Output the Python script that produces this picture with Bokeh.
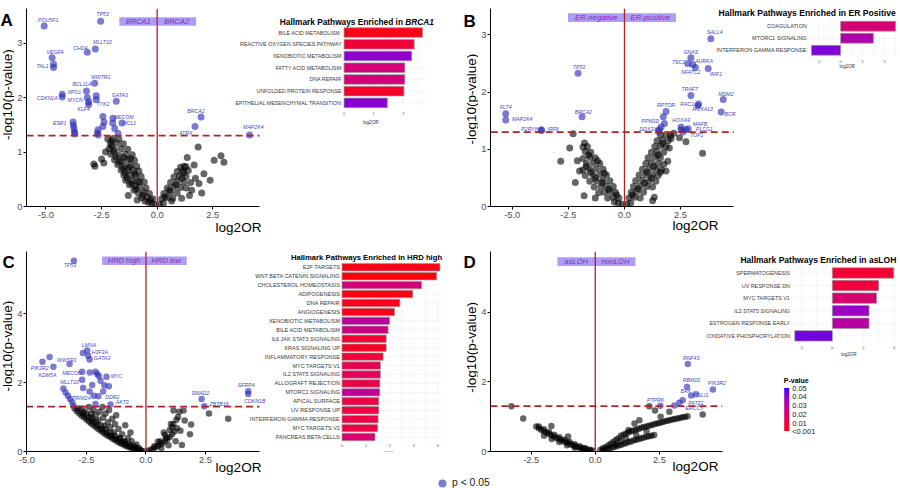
import numpy as np
from bokeh.plotting import figure
from bokeh.models import (Range1d, FixedTicker, Span, ColumnDataSource, LinearColorMapper,
                          ColorBar, Legend, LegendItem, AllLabels)
from bokeh.layouts import column, row
from bokeh.transform import transform
from bokeh.core.properties import value
from bokeh.embed import file_html
from bokeh.resources import INLINE

# ----------------------------------------------------------------- data ----
P_CUT = 0.05

# Panel A : BRCA1 vs BRCA2
A_groups = ["BRCA1", "BRCA2"]
A_sig_gene = ["POU5F1", "TP53", "MLLT10", "CHD4", "VEGFA", "TAL1", "", "WWTR1", "BCL11A",
              "CDKN1A", "", "XPO1", "MYCN", "TYK2", "", "KLF4", "GATA3", "MECOM", "MCL1",
              "", "", "", "", "", "", "ESR1", "", "", "", "", "", "", "",
              "BRCA2", "ATRX", "MAP2K4"]
A_sig_x = [-5.08, -2.54, -2.78, -3.14, -4.72, -4.66, -4.66, -2.81, -3.18,
           -4.27, -4.27, -3.14, -3.08, -2.74, -2.74, -3.08, -1.84, -1.99, -1.58,
           -2.44, -2.39, -2.44, -2.00, -1.91, -1.76, -3.78, -3.77, -3.74, -3.72, -3.70, -2.66, -2.69, -2.65,
           1.97, 1.70, 4.15]
A_sig_y = [3.31, 3.40, 2.89, 2.83, 2.73, 2.55, 2.61, 2.26, 2.12,
           2.06, 2.01, 2.00, 1.92, 1.96, 2.03, 1.87, 1.93, 1.62, 1.53,
           1.65, 1.55, 1.47, 1.53, 1.43, 1.34, 1.55, 1.49, 1.43, 1.37, 1.33, 1.41, 1.35, 1.31,
           1.64, 1.47, 1.31]
A_ns_x = [-0.10, -0.25, -0.40, -0.55, -0.20, -0.45, -0.70, -0.35, -0.60, -0.85, -1.05, -0.50, -0.78,
          -1.00, -1.25, -0.58, -0.88, -1.12, -1.42, -0.72, -0.98, -1.22, -1.50, -0.82, -1.07, -1.32,
          -1.62, -0.92, -1.18, -1.46, -1.78, -1.02, -1.32, -1.60, -1.92, -1.12, -1.42, -1.72, -2.08,
          -1.32, -1.62, -1.92, -2.16, -1.52, -1.82, -2.10, -1.72, -1.98, -2.22, -2.85, -2.80, -2.50,
          -2.32, -2.40, -2.05, -1.30, -0.90,
          -0.30, -0.65, -0.95, -1.15, -1.35, -1.45, -1.55, -1.70, -1.85, -1.95, -2.05, -1.20, -1.50,
          -1.00, -0.80, -1.25,
          0.10, 0.28, 0.20, 0.45, 0.70, 0.30, 0.60, 0.90, 0.45, 0.75, 1.05, 1.30, 0.60, 0.90, 1.20,
          1.50, 0.75, 1.00, 1.30, 0.90, 1.15, 1.40, 1.05, 1.30, 1.84, 1.35, 2.56, 2.87, 3.00, 2.10,
          2.38, 1.88, 1.66, 1.21, 1.55, 1.72, 2.00, 1.10, 1.45,
          0.35, 0.55, 0.85, 1.10, 1.20, 0.65]
A_ns_y = [0.04, 0.06, 0.08, 0.10, 0.14, 0.17, 0.16, 0.24, 0.26, 0.25, 0.30, 0.34, 0.36,
          0.38, 0.40, 0.45, 0.46, 0.47, 0.48, 0.55, 0.56, 0.57, 0.58, 0.65, 0.66, 0.66,
          0.67, 0.74, 0.76, 0.75, 0.77, 0.85, 0.86, 0.84, 0.86, 0.95, 0.96, 0.94, 0.96,
          1.05, 1.06, 1.04, 1.06, 1.15, 1.16, 1.15, 1.24, 1.25, 1.24, 0.78, 0.74, 0.87,
          1.00, 0.80, 1.20, 0.20, 0.12,
          0.12, 0.21, 0.32, 0.42, 0.52, 0.62, 0.71, 0.81, 0.91, 1.00, 1.10, 0.88, 0.90,
          0.60, 0.45, 0.72,
          0.04, 0.06, 0.14, 0.16, 0.15, 0.24, 0.26, 0.25, 0.34, 0.36, 0.35, 0.34, 0.44, 0.46, 0.45,
          0.44, 0.54, 0.56, 0.55, 0.64, 0.65, 0.66, 0.72, 0.73, 1.09, 0.90, 0.85, 0.93, 0.81, 0.60,
          0.48, 0.42, 0.76, 0.74, 0.30, 0.52, 0.25, 0.15, 0.20,
          0.18, 0.30, 0.40, 0.52, 0.62, 0.10]
A_title = ["Hallmark Pathways Enriched in", "BRCA1"]
A_path = ["BILE  ACID METABOLISM", "REACTIVE OXYGEN SPECIES PATHWAY", "XENOBIOTIC METABOLISM",
          "FATTY ACID METABOLISM", "DNA REPAIR", "UNFOLDED PROTEIN RESPONSE",
          "EPITHELIAL MESENCHYMAL TRANSITION"]
A_path_or = [2.65, 2.37, 2.28, 2.05, 2.05, 2.02, 1.46]
A_path_p = [0.003, 0.009, 0.040, 0.022, 0.022, 0.006, 0.041]
A_inset_ticks = [0, 1, 2]

# Panel B : ER-negative vs ER-positive
B_groups = ["ER-negative", "ER-positive"]
B_sig_gene = ["TP53", "FLT4", "MAP2K4", "BRCA2", "P2RY8", "IRF6", "SALL4", "GNAS", "TSC1", "AURKA",
              "NFATC2", "WIF1", "TRAF7", "MDM2", "RAC1", "HOXA13", "BCR", "RPTOR", "PPM1D", "DDX3X",
              "HOXA9", "MAFB", "PLCG1", "TOP1", "", "", "", ""]
B_sig_x = [-2.07, -5.29, -5.29, -1.89, -3.70, -3.70, 3.85, 2.96, 2.82, 3.16,
           3.04, 3.73, 2.96, 4.40, 3.30, 3.26, 4.31, 1.85, 1.78, 1.56,
           2.52, 2.84, 2.74, 2.60, 1.73, 1.63, 2.52, 1.50]
B_sig_y = [2.33, 1.62, 1.51, 1.57, 1.33, 1.34, 2.93, 2.60, 2.50, 2.43,
           2.48, 2.41, 1.94, 1.87, 1.79, 1.76, 1.65, 1.66, 1.45, 1.34,
           1.39, 1.36, 1.34, 1.30, 1.57, 1.39, 1.34, 1.31]
B_ns_x = [-0.10, -0.28, -0.45, -0.25, -0.50, -0.75, -0.40, -0.65, -0.90, -1.15, -0.50, -0.80, -1.05,
          -1.35, -0.65, -0.95, -1.25, -1.55, -0.80, -1.10, -1.40, -1.75, -0.95, -1.25, -1.55, -1.85,
          -1.10, -1.40, -1.70, -1.30, -1.55, -1.85, -1.50, -1.75, -1.65, -1.85, -2.29, -2.44, -2.84,
          -2.19, -1.80, -1.78, -2.00, -2.10, -1.30,
          -0.35, -0.70, -1.00, -1.30, -1.50, -1.70, -1.20, -1.60, -0.90,
          0.10, 0.28, 0.20, 0.45, 0.70, 0.30, 0.55, 0.85, 0.40, 0.70, 1.00, 1.25, 0.50, 0.80, 1.10,
          1.40, 0.65, 0.95, 1.25, 1.50, 0.80, 1.10, 1.40, 1.65, 0.95, 1.20, 1.50, 1.75, 1.05, 1.35,
          1.60, 1.20, 1.45, 1.75, 1.35, 1.60, 1.85, 1.45, 1.70, 1.95, 1.60, 1.85, 2.05, 2.74, 3.48,
          2.08, 2.00, 1.93, 1.85, 1.33, 1.25, 2.20, 2.45,
          0.35, 0.60, 0.90, 1.20, 1.30, 1.50, 1.70, 1.00, 1.60]
B_ns_y = [0.04, 0.06, 0.08, 0.15, 0.16, 0.15, 0.25, 0.26, 0.25, 0.24, 0.35, 0.36, 0.35,
          0.34, 0.45, 0.46, 0.45, 0.44, 0.55, 0.56, 0.55, 0.54, 0.65, 0.66, 0.65, 0.64,
          0.75, 0.76, 0.75, 0.85, 0.86, 0.84, 0.95, 0.96, 1.05, 1.04, 1.27, 1.02, 0.79,
          0.42, 0.19, 1.11, 0.62, 0.80, 0.15,
          0.20, 0.30, 0.42, 0.50, 0.60, 0.70, 0.80, 0.90, 0.58,
          0.04, 0.06, 0.15, 0.16, 0.15, 0.25, 0.26, 0.25, 0.35, 0.36, 0.35, 0.34, 0.45, 0.46, 0.45,
          0.44, 0.55, 0.56, 0.55, 0.54, 0.65, 0.66, 0.65, 0.64, 0.75, 0.76, 0.75, 0.74, 0.85, 0.86,
          0.85, 0.95, 0.96, 0.95, 1.05, 1.06, 1.05, 1.15, 1.16, 1.15, 1.25, 1.26, 1.24, 1.13, 0.93,
          1.19, 1.02, 0.79, 0.62, 0.16, 0.10, 1.28, 1.20,
          0.20, 0.31, 0.41, 0.50, 0.70, 0.90, 1.10, 0.60, 0.60]
B_title = ["Hallmark Pathways Enriched in ER Positive"]
B_path = ["COAGULATION", "MTORC1 SIGNALING", "INTERFERON GAMMA RESPONSE"]
B_path_or = [2.50, 1.49, -1.33]
B_path_p = [0.022, 0.033, 0.042]
B_inset_ticks = [-1, 0, 1, 2]

# Panel C : HRD high vs HRD low
C_groups = ["HRD high", "HRD low"]
C_sig_gene = ["TP53", "LMNA", "H3F3A", "GATA3", "WWTR1", "PIK3R2", "KDM5A", "MECOM", "MYC", "MLLT10",
              "TRIM24", "DDR2", "AKT3", "SMAD2", "ZBTB16", "SFRP4", "CDKN1B",
              "", "", "", "", "", "", "", "", "", "", "", "", "", "", "", "", "", "", "", ""]
C_sig_x = [-3.03, -2.47, -2.43, -2.37, -3.21, -4.35, -3.89, -2.68, -1.66, -3.47,
           -3.19, -1.80, -1.49, 2.34, 2.45, 4.30, 4.30,
           -4.05, -2.65, -2.36, -2.12, -1.98, -2.68, -1.91, -1.56, -2.26, -2.64, -2.37, -2.19,
           -3.38, -3.28, -3.10, -3.05, -2.12, -2.05, -1.75, -2.00]
C_sig_y = [5.53, 2.93, 2.78, 2.67, 2.54, 2.60, 2.46, 2.31, 2.17, 1.83,
           1.52, 1.74, 1.36, 1.52, 1.31, 1.75, 1.67,
           2.74, 2.86, 2.29, 2.31, 2.19, 2.08, 2.05, 1.89, 1.93, 1.84, 1.74, 1.62,
           1.71, 1.62, 1.43, 1.33, 1.38, 2.25, 1.92, 1.60]
C_ns_x = [-3.00, -2.90, -2.80, -2.70, -2.60, -2.50, -2.40, -2.30, -2.20, -2.10, -2.00, -1.90, -1.80,
          -1.70, -1.60, -1.50, -1.40, -1.30, -1.20, -1.10, -1.00, -0.90, -0.80, -0.70, -0.60, -0.50,
          -0.40, -0.30, -0.20, -0.10,
          -2.85, -2.65, -2.45, -2.25, -2.05, -1.85, -1.65, -1.45, -1.25, -1.05, -0.85, -0.65, -0.45,
          -0.25,
          -2.70, -2.50, -2.30, -2.10, -1.90, -1.70, -1.50, -1.30, -1.10, -0.90, -0.70, -0.50, -0.30,
          -2.40, -1.83, -2.20, -1.95, -1.70, -2.10, -1.80, -1.42, -1.60, -1.30, -0.87, -1.50, -1.15,
          -1.35, -1.00, -0.75, -1.10, -0.60, -0.90, -0.40, -2.00, -2.30, -1.25, -0.65, -2.60, -1.55,
          -1.75, -2.25,
          0.10, 0.20, 0.30, 0.40, 0.50, 0.60, 0.70, 0.80, 0.90, 1.00, 1.10, 1.20, 1.30, 0.50, 0.80,
          1.00, 1.15, 0.65, 0.95, 1.25, 1.16, 1.58, 1.63, 1.90, 1.85, 1.51, 2.65, 3.46, 1.35, 1.45,
          1.28, 1.40, 0.35, 0.60, 0.85, 1.10, 0.75, 1.05]
C_ns_y = [1.25, 1.17, 1.10, 1.04, 0.99, 0.93, 0.87, 0.81, 0.76, 0.70, 0.65, 0.60, 0.55,
          0.50, 0.46, 0.42, 0.37, 0.33, 0.29, 0.25, 0.22, 0.18, 0.15, 0.12, 0.10, 0.08,
          0.05, 0.04, 0.02, 0.01,
          1.25, 1.10, 0.99, 0.87, 0.76, 0.65, 0.55, 0.46, 0.37, 0.29, 0.22, 0.15, 0.10,
          0.05,
          1.25, 1.10, 0.99, 0.87, 0.76, 0.65, 0.55, 0.46, 0.37, 0.29, 0.22, 0.15, 0.10,
          1.29, 1.29, 1.20, 1.15, 1.10, 1.05, 0.98, 0.95, 0.85, 0.80, 0.76, 0.70, 0.65,
          0.55, 0.50, 0.40, 0.40, 0.30, 0.30, 0.20, 0.90, 1.10, 1.05, 0.55, 1.15, 1.20,
          0.75, 0.95,
          0.02, 0.05, 0.08, 0.12, 0.16, 0.20, 0.25, 0.30, 0.36, 0.42, 0.50, 0.58, 0.68, 0.28, 0.48,
          0.62, 0.80, 0.10, 0.18, 0.30, 1.19, 1.19, 0.90, 0.78, 0.50, 0.19, 1.10, 0.95, 1.00, 0.60,
          0.92, 1.15, 0.15, 0.30, 0.40, 0.70, 0.55, 0.80]
C_title = ["Hallmark Pathways Enriched in HRD high"]
C_path = ["E2F TARGETS", "WNT BETA CATENIN SIGNALING", "CHOLESTEROL HOMEOSTASIS", "ADIPOGENESIS",
          "DNA REPAIR", "ANGIOGENESIS", "XENOBIOTIC METABOLISM", "BILE ACID METABOLISM",
          "IL6 JAK STAT3 SIGNALING", "KRAS SIGNALING UP", "INFLAMMATORY RESPONSE", "MYC TARGETS V1",
          "IL2 STAT5 SIGNALING", "ALLOGRAFT REJECTION", "MTORC1 SIGNALING", "APICAL SURFACE",
          "UV RESPONSE UP", "INTERFERON GAMMA RESPONSE", "MYC TARGETS V2", "PANCREAS BETA CELLS"]
C_path_or = [4.10, 3.96, 3.33, 2.96, 2.42, 2.20, 1.99, 1.93, 1.85, 1.85,
             1.72, 1.61, 1.61, 1.58, 1.58, 1.54, 1.54, 1.51, 1.49, 1.38]
C_path_p = [0.003, 0.002, 0.022, 0.003, 0.004, 0.004, 0.030, 0.024, 0.008, 0.005,
            0.009, 0.013, 0.016, 0.012, 0.029, 0.011, 0.010, 0.011, 0.011, 0.020]
C_inset_ticks = [0, 1, 2, 3, 4]

# Panel D : asLOH vs nonLOH
D_groups = ["asLOH", "nonLOH"]
D_sig_gene = ["RNF43", "RBM10", "PIK3R2", "BAX", "GLI1", "PATZ1", "ERCC5", "PTPRK", ""]
D_sig_x = [3.61, 3.58, 4.59, 3.74, 3.93, 3.41, 3.28, 2.54, 3.09]
D_sig_y = [2.51, 1.85, 1.78, 1.61, 1.64, 1.47, 1.40, 1.31, 1.32]
D_ns_x = [-2.30, -2.20, -2.10, -2.00, -1.90, -1.80, -1.70, -1.60, -1.50, -1.40, -1.30, -1.20, -1.10,
          -1.00, -0.90, -0.80, -0.70, -0.60, -0.50, -0.40, -0.30, -0.20, -0.10,
          -2.00, -1.70, -1.40, -1.10, -0.80, -0.50,
          -2.20, -2.00, -1.80, -1.60, -1.40, -1.20, -1.00, -0.80, -0.60, -0.40, -0.20,
          -3.27, -2.81, -1.71, -1.06,
          0.20, 0.40, 0.60, 0.80, 1.00, 1.20, 1.40, 1.60, 1.80, 2.00, 2.20, 2.40, 2.60, 2.80, 3.00,
          3.20, 3.40, 3.60,
          0.30, 0.50, 0.70, 0.90, 1.10, 1.30, 1.50, 1.70, 1.90, 2.10, 2.30, 2.50, 2.70, 2.90, 3.10,
          3.30, 3.50,
          0.30, 0.50, 0.70, 0.90, 1.10, 1.30, 1.50, 1.70, 1.90, 2.10, 2.30,
          0.40, 0.60, 0.80, 1.00, 1.20, 1.40, 1.60, 1.80, 2.00, 2.20,
          0.80, 1.20, 1.60, 2.00, 1.00,
          2.11, 2.33, 2.89, 1.53, 1.72, 4.19, 1.30, 2.55]
D_ns_y = [0.72, 0.67, 0.62, 0.58, 0.54, 0.50, 0.46, 0.42, 0.38, 0.35, 0.32, 0.28, 0.25,
          0.22, 0.19, 0.16, 0.13, 0.11, 0.09, 0.07, 0.05, 0.03, 0.02,
          0.45, 0.36, 0.27, 0.18, 0.11, 0.05,
          0.72, 0.64, 0.56, 0.48, 0.41, 0.34, 0.27, 0.21, 0.15, 0.10, 0.05,
          1.30, 0.95, 0.73, 0.43,
          0.05, 0.12, 0.22, 0.33, 0.45, 0.52, 0.58, 0.63, 0.68, 0.72, 0.76, 0.80, 0.84, 0.88, 0.92,
          0.95, 0.98, 1.01,
          0.09, 0.17, 0.27, 0.38, 0.48, 0.55, 0.60, 0.65, 0.70, 0.74, 0.78, 0.82, 0.86, 0.90, 0.93,
          0.96, 0.99,
          0.04, 0.08, 0.12, 0.17, 0.22, 0.27, 0.32, 0.36, 0.40, 0.44, 0.47,
          0.06, 0.10, 0.14, 0.19, 0.24, 0.29, 0.34, 0.38, 0.42, 0.45,
          0.20, 0.38, 0.48, 0.58, 0.30,
          1.30, 1.18, 1.14, 0.80, 0.90, 1.06, 0.62, 1.00]
D_title = ["Hallmark Pathways Enriched in asLOH"]
D_path = ["SPERMATOGENESIS", "UV RESPONSE DN", "MYC TARGETS V1", "IL2 STAT5 SIGNALING",
          "ESTROGEN RESPONSE EARLY", "OXIDATIVE PHOSPHORYLATION"]
D_path_or = [3.97, 2.99, 2.86, 2.37, 2.37, -2.43]
D_path_p = [0.008, 0.010, 0.020, 0.037, 0.031, 0.044]
D_inset_ticks = [-2, 0, 2, 4]

PVAL_TICKS = [0.001, 0.01, 0.02, 0.03, 0.04, 0.05]
PVAL_LABELS = ["<0.001", "0.01", "0.02", "0.03", "0.04", "0.05"]
LEGEND_LABEL = "p < 0.05"
Y_TITLE = "-log10(p-value)"

# ------------------------------------------------------- label placement ----
OFF_A = {"POU5F1": (4, -6.6), "TP53": (2, -7), "MLLT10": (7, -7), "CHD4": (-7, -4.4),
         "VEGFA": (3, -5.3), "TAL1": (-11, -1.7), "WWTR1": (6, -6.7), "BCL11A": (-4.5, -6.7),
         "CDKN1A": (-15, 4), "XPO1": (-13, -5.4), "MYCN": (-13.5, -2.3), "TYK2": (6.7, 4.3),
         "KLF4": (-5, 4), "GATA3": (3.5, -6), "MECOM": (10.8, -1.6), "MCL1": (7.3, -0.6),
         "ESR1": (-13.4, 1), "BRCA2": (-5, -6.6), "ATRX": (-9.3, 6.6), "MAP2K4": (3.8, -7.7)}
OFF_B = {"TP53": (1, -6.3), "FLT4": (0, -6.3), "MAP2K4": (16.5, -0.7), "BRCA2": (1.3, -5),
         "P2RY8": (-12, -1), "IRF6": (11.7, -1), "SALL4": (4, -7), "GNAS": (0, -6),
         "TSC1": (-9.2, -1.3), "AURKA": (8.7, -6.6), "NFATC2": (-2, 7.6), "WIF1": (7.7, 5),
         "TRAF7": (-1.2, -6.7), "MDM2": (2.7, -5.7), "RAC1": (-11.4, 0.3), "HOXA13": (5, 3.7),
         "BCR": (8.8, 2.4), "RPTOR": (0, -6), "PPM1D": (-14, -2.3), "DDX3X": (-11.3, -0.7),
         "HOXA9": (0, -6.6), "MAFB": (11.7, -4.3), "PLCG1": (18.5, -0.7), "TOP1": (13.8, 3.4)}
OFF_C = {"TP53": (-3.9, 4), "LMNA": (1.7, -5), "H3F3A": (11.7, -3.6), "GATA3": (12.4, -1),
         "WWTR1": (-2.8, -4.4), "PIK3R2": (-2.8, 6), "KDM5A": (-6, 8.3), "MECOM": (-10, 1),
         "MYC": (10, -0.7), "MLLT10": (6.2, -6), "TRIM24": (11.3, -0.6), "DDR2": (9.3, 5),
         "AKT3": (11.7, -2.3), "SMAD2": (-1.2, -6), "ZBTB16": (14.8, -2), "SFRP4": (-2, -6.4),
         "CDKN1B": (6.6, 6.7)}
OFF_D = {"RNF43": (3.3, -6), "RBM10": (4.3, -6.6), "PIK3R2": (4, -6.4), "BAX": (-5.5, -4.4),
         "GLI1": (6.7, 1), "PATZ1": (13.3, 2.3), "ERCC5": (15, 5.3), "PTPRK": (-4.8, -5.6)}

# ---------------------------------------------------------------- style ----
FONT = "Liberation Sans"
RED = "#B22222"
SIG_COL = "#2A2AB4"
LAB_COL = "#4545C0"
BOX_FILL = "#AC9EF4"
BOX_TXT = "#8E2AAA"

# all x positions below are pixels inside each panel's main figure (after its gutter)
GA = dict(gw=14, letter=(0, 14), ytx=7,
          w=436, h=237, fl=11, ft=0, fb=206, x0=142, sx=22.3, sy=56.7, xlo=-5.87, xhi=4.6,
          xt=[-5.0, -2.5, 0.0, 2.5], yt=[0, 1, 2, 3], ps=7, xstand=-1,
          bx=(104, 142, 181), by=(9, 18), box_fs="7.5px",
          bz=329.3, bsx=29.7, bt=25, bst=12.2, bhf=0.82, lab_px=326.7, cat_fs="5.3px",
          gx=(-0.13, 2.78), gv=[0, 0.5, 1, 1.5, 2, 2.5], tk_dy=10.7, xl_dx=26.7, xl_dy=19.7,
          t_dx=(58.9, 61.2), t_dy=-11, t_fs="8.3px")
GB = dict(gw=28, letter=(13, 15), ytx=20.5,
          w=422, h=237, fl=11, ft=8, fb=209, x0=145.3, sx=22.5, sy=58.1, xlo=-5.96, xhi=4.87,
          xt=[-5.0, -2.5, 0.0, 2.5], yt=[0, 1, 2, 3], ps=7, xstand=-3,
          bx=(88.7, 145.3, 197), by=(12.7, 21.7), box_fs="7.7px",
          bz=362, bsx=22, bt=26, bst=12.2, bhf=0.82, lab_px=328, cat_fs="5.5px",
          gx=(-1.55, 2.62), gv=[-1.5, -1, -0.5, 0, 0.5, 1, 1.5, 2, 2.5], tk_dy=11.3, xl_dx=6.7,
          xl_dy=16.7, t_dx=-33.5, t_dy=-13.3, t_fs="8.6px")
GC = dict(gw=14, letter=(2, 13), ytx=7,
          w=436, h=240, fl=10, ft=12, fb=215, x0=130, sx=23.9, sy=35, xlo=-5.04, xhi=4.77,
          xt=[-5.0, -2.5, 0.0, 2.5], yt=[0, 2, 4], ps=6.5, xstand=-6,
          bx=(86, 130, 171), by=(17, 25.7), box_fs="7.5px",
          bz=327, bsx=24, bt=28, bst=9.07, bhf=0.83, lab_px=325, cat_fs="5.5px",
          gx=(-0.2, 4.25), gv=[0, 0.5, 1, 1.5, 2, 2.5, 3, 3.5, 4], tk_dy=8.4, xl_dx=44, xl_dy=16.7,
          t_dx=24.5, t_dy=-9.3, t_fs="7.7px")
GD = dict(gw=28, letter=(13, 13), ytx=20.5,
          w=422, h=240, fl=11, ft=14, fb=216, x0=116, sx=25.7, sy=35.2, xlo=-4.09, xhi=4.95,
          xt=[-2.5, 0.0, 2.5], yt=[0, 2, 4], ps=6.5, xstand=-7,
          bx=(78, 116, 156.3), by=(19.7, 28.7), box_fs="7.5px",
          bz=353.7, bsx=15.5, bt=35.7, bst=12.7, bhf=0.83, lab_px=311.3, cat_fs="5.4px",
          gx=(-2.75, 4.15), gv=[-2, -1, 0, 1, 2, 3, 4], tk_dy=11.7, xl_dx=16.3, xl_dy=18.3,
          t_dx=-14, t_dy=-13.4, t_fs="8.5px", pv=(305, 144.5), cb=(293.7, 20.5), cbh=43)
LEGEND_H = 11


# ---------------------------------------------- red -> blue palette in Lab ----
def _to_lab(hexc):
    rgb = [int(hexc[i:i + 2], 16) / 255 for i in (1, 3, 5)]
    lin = [c / 12.92 if c <= 0.04045 else ((c + 0.055) / 1.055) ** 2.4 for c in rgb]
    r, g, b = lin
    X = (0.4124 * r + 0.3576 * g + 0.1805 * b) / 0.95047
    Y = 0.2126 * r + 0.7152 * g + 0.0722 * b
    Z = (0.0193 * r + 0.1192 * g + 0.9505 * b) / 1.08883
    f = lambda t: t ** (1 / 3) if t > 0.008856 else 7.787 * t + 16 / 116
    return 116 * f(Y) - 16, 500 * (f(X) - f(Y)), 200 * (f(Y) - f(Z))


def _from_lab(L, a, b):
    fy = (L + 16) / 116
    fx, fz = fy + a / 500, fy - b / 200
    finv = lambda t: t ** 3 if t ** 3 > 0.008856 else (t - 16 / 116) / 7.787
    X, Y, Z = 0.95047 * finv(fx), finv(fy), 1.08883 * finv(fz)
    r = 3.2406 * X - 1.5372 * Y - 0.4986 * Z
    g = -0.9689 * X + 1.8758 * Y + 0.0415 * Z
    bb = 0.0557 * X - 0.2040 * Y + 1.0570 * Z
    def gam(c):
        c = min(max(c, 0.0), 1.0)
        return 12.92 * c if c <= 0.0031308 else 1.055 * c ** (1 / 2.4) - 0.055
    return "#%02x%02x%02x" % tuple(int(round(gam(c) * 255)) for c in (r, g, bb))


_l0, _l1 = np.array(_to_lab("#FF0000")), np.array(_to_lab("#0000FF"))
PAL = [_from_lab(*(_l0 + t * (_l1 - _l0))) for t in np.linspace(0, 1, 256)]
MAPPER = LinearColorMapper(palette=PAL, low=min(PVAL_TICKS), high=max(PVAL_TICKS))


def plain(w, h, y_down=True):
    """Figure whose frame fills the whole canvas (pixel-like ranges)."""
    q = figure(width=w, height=h, output_backend="svg", toolbar_location=None,
               x_range=Range1d(0, w), y_range=Range1d(h, 0) if y_down else Range1d(0, h),
               x_axis_location=None, y_axis_location=None, min_border=0, min_border_left=0,
               min_border_right=0, min_border_top=0, min_border_bottom=0,
               background_fill_color="white", border_fill_color="white", outline_line_color=None)
    q.grid.visible = False
    return q


def gutter(g, ch):
    q = plain(g["gw"], g["h"])
    q.text(x=[g["letter"][0]], y=[g["letter"][1]], text=[ch], text_align="left",
           text_baseline="alphabetic", text_font=value(FONT), text_font_style="bold",
           text_font_size="17px", text_color="black")
    q.text(x=[g["ytx"]], y=[(g["ft"] + g["fb"]) / 2], text=[Y_TITLE], angle=np.pi / 2,
           text_align="center", text_baseline="middle", text_font=value(FONT),
           text_font_size="13.5px", text_color="black")
    return q


def build(g, groups, sig_gene, sig_x, sig_y, ns_x, ns_y, offs, title, path, path_or,
          path_p, inset_ticks):
    p = figure(width=g["w"], height=g["h"], output_backend="svg", toolbar_location=None,
               x_range=Range1d((g["fl"] - g["x0"]) / g["sx"], (g["w"] - g["x0"]) / g["sx"]),
               y_range=Range1d(0, (g["fb"] - g["ft"]) / g["sy"]),
               min_border_left=g["fl"], min_border_right=0, min_border_top=g["ft"],
               min_border_bottom=g["h"] - g["fb"], background_fill_color="white",
               border_fill_color="white", outline_line_color=None)
    p.grid.visible = False
    p.extra_x_ranges = {"bar": Range1d((g["fl"] - g["bz"]) / g["bsx"], (g["w"] - g["bz"]) / g["bsx"])}
    p.extra_y_ranges = {"bar": Range1d((g["bt"] - g["fb"]) / g["bst"], (g["bt"] - g["ft"]) / g["bst"])}

    xa, ya = p.xaxis[0], p.yaxis[0]
    xa.ticker = FixedTicker(ticks=g["xt"], minor_ticks=[])
    xa.major_label_overrides = {t: "%.1f" % t for t in g["xt"]}
    xa.bounds = (g["xlo"], g["xhi"])
    xa.axis_label = "log2OR"
    xa.axis_label_standoff = g["xstand"]
    xa.major_label_standoff = 2
    ya.ticker = FixedTicker(ticks=g["yt"], minor_ticks=[])
    ya.major_label_standoff = 1
    for ax in (xa, ya):
        ax.axis_line_color = "black"
        ax.axis_line_width = 1
        ax.major_tick_line_color = "black"
        ax.major_tick_out = 3
        ax.major_tick_in = 0
        ax.minor_tick_line_color = None
        ax.major_label_text_font = FONT
        ax.major_label_text_font_size = "9.3px"
        ax.major_label_text_color = "#4D4D4D"
        ax.axis_label_text_font = FONT
        ax.axis_label_text_font_size = "13.5px"
        ax.axis_label_text_font_style = "normal"
        ax.axis_label_text_color = "black"

    # group label boxes at the top
    lx = (g["bx"][0] - g["x0"]) / g["sx"]
    rx = (g["bx"][2] - g["x0"]) / g["sx"]
    yt = (g["fb"] - g["by"][0]) / g["sy"]
    yb = (g["fb"] - g["by"][1]) / g["sy"]
    p.quad(left=[lx, 0], right=[0, rx], top=[yt, yt], bottom=[yb, yb], fill_color=BOX_FILL,
           line_color=None)
    p.text(x=[lx / 2, rx / 2], y=[(yt + yb) / 2] * 2, text=groups, text_align="center",
           text_baseline="middle", text_font=value(FONT), text_font_style="italic",
           text_font_size=g["box_fs"], text_color=BOX_TXT)

    # volcano points
    p.scatter(ns_x, ns_y, size=g["ps"], fill_color="black", fill_alpha=0.6, line_color=None)
    p.scatter(sig_x, sig_y, size=g["ps"], fill_color=SIG_COL, fill_alpha=0.62, line_color=None)
    lab = dict(x=[], y=[], t=[], dx=[], dy=[])
    for gname, x, y in zip(sig_gene, sig_x, sig_y):
        if gname:
            dx, dy = offs.get(gname, (0, -6))
            lab["x"].append(x); lab["y"].append(y); lab["t"].append(gname)
            lab["dx"].append(dx); lab["dy"].append(dy)
    p.text(x="x", y="y", text="t", x_offset="dx", y_offset="dy", source=ColumnDataSource(lab),
           text_align="center", text_baseline="middle", text_font=value(FONT),
           text_font_style="italic", text_font_size="5.2px", text_color=LAB_COL)

    thr = -np.log10(P_CUT)
    p.segment(x0=[g["xlo"]], y0=[thr], x1=[g["xhi"]], y1=[thr], line_color=RED,
              line_width=1.7, line_dash="7 4")
    p.add_layout(Span(location=0, dimension="height", line_color=RED, line_width=1.3))

    # inset bar chart
    n = len(path)
    ys = [-k for k in range(n)]
    kw = dict(x_range_name="bar", y_range_name="bar")
    p.segment(x0=g["gv"], x1=g["gv"], y0=[0.6] * len(g["gv"]), y1=[-(n - 1) - 0.6] * len(g["gv"]),
              line_color="#EEEEEE", line_width=0.6, **kw)
    p.segment(x0=[g["gx"][0]] * n, x1=[g["gx"][1]] * n, y0=ys, y1=ys, line_color="#EEEEEE",
              line_width=0.6, **kw)
    bsrc = ColumnDataSource(dict(y=ys, l=[min(0, v) for v in path_or],
                                 r=[max(0, v) for v in path_or], p=path_p))
    p.hbar(y="y", left="l", right="r", height=g["bhf"], source=bsrc,
           fill_color=transform("p", MAPPER), line_color="#9A9A9A", line_width=0.7, **kw)
    p.text(x=[0] * n, y=ys, text=path, x_offset=g["lab_px"] - g["bz"], text_align="right",
           text_baseline="middle", text_font=value(FONT), text_font_size=g["cat_fs"],
           text_color="#3A3A3A", **kw)
    p.text(x=inset_ticks, y=[-(n - 1)] * len(inset_ticks), text=[str(t) for t in inset_ticks],
           y_offset=g["tk_dy"], text_align="center", text_baseline="middle",
           text_font=value(FONT), text_font_size="4px", text_color="#555555", **kw)
    p.text(x=[0], y=[-(n - 1)], text=["log2OR"], x_offset=g["xl_dx"], y_offset=g["xl_dy"],
           text_align="center", text_baseline="middle", text_font=value(FONT),
           text_font_size="4.6px", text_color="#333333", **kw)
    if len(title) == 2:
        p.text(x=[0], y=[0], text=[title[0]], x_offset=g["t_dx"][0], y_offset=g["t_dy"],
               text_align="right", text_baseline="middle", text_font=value(FONT),
               text_font_style="bold", text_font_size=g["t_fs"], text_color="black", **kw)
        p.text(x=[0], y=[0], text=[title[1]], x_offset=g["t_dx"][1], y_offset=g["t_dy"],
               text_align="left", text_baseline="middle", text_font=value(FONT),
               text_font_style="bold italic", text_font_size=g["t_fs"], text_color="black", **kw)
    else:
        p.text(x=[0], y=[0], text=title, x_offset=g["t_dx"], y_offset=g["t_dy"],
               text_align="center", text_baseline="middle", text_font=value(FONT),
               text_font_style="bold", text_font_size=g["t_fs"], text_color="black", **kw)
    return p


pA = build(GA, A_groups, A_sig_gene, A_sig_x, A_sig_y, A_ns_x, A_ns_y, OFF_A, A_title,
           A_path, A_path_or, A_path_p, A_inset_ticks)
pB = build(GB, B_groups, B_sig_gene, B_sig_x, B_sig_y, B_ns_x, B_ns_y, OFF_B, B_title,
           B_path, B_path_or, B_path_p, B_inset_ticks)
pC = build(GC, C_groups, C_sig_gene, C_sig_x, C_sig_y, C_ns_x, C_ns_y, OFF_C, C_title,
           C_path, C_path_or, C_path_p, C_inset_ticks)
pD = build(GD, D_groups, D_sig_gene, D_sig_x, D_sig_y, D_ns_x, D_ns_y, OFF_D, D_title,
           D_path, D_path_or, D_path_p, D_inset_ticks)

# P-value colour bar (inside panel D)
cbar = ColorBar(color_mapper=MAPPER, ticker=FixedTicker(ticks=PVAL_TICKS, minor_ticks=[]),
                major_label_overrides=dict(zip(PVAL_TICKS, PVAL_LABELS)),
                major_label_policy=AllLabels(),
                location=GD["cb"], orientation="vertical", width=5, height=GD["cbh"],
                major_label_text_font=FONT, major_label_text_font_size="7.5px",
                major_label_text_color="#222222", label_standoff=3,
                major_tick_line_color=None, minor_tick_line_color=None, bar_line_color=None,
                border_line_color=None, background_fill_alpha=0, padding=0, margin=0)
pD.add_layout(cbar)
pD.text(x=[(GD["pv"][0] - GD["x0"]) / GD["sx"]], y=[(GD["fb"] - GD["pv"][1]) / GD["sy"]],
        text=["P-value"], text_align="left", text_baseline="middle", text_font=value(FONT),
        text_font_style="bold", text_font_size="7px", text_color="black")

gA, gB, gC, gD = gutter(GA, "A"), gutter(GB, "B"), gutter(GC, "C"), gutter(GD, "D")

# legend strip at the bottom (the key glyph takes its look from a hidden renderer)
legf = plain(900, LEGEND_H, y_down=False)
rleg = legf.scatter(x=[float("nan")], y=[float("nan")], size=8, fill_color=SIG_COL,
                    fill_alpha=0.62, line_color=None)
leg = Legend(items=[LegendItem(label=LEGEND_LABEL, renderers=[rleg], index=0)],
             location=(432, LEGEND_H / 2 - 10), glyph_width=20, glyph_height=20,
             label_standoff=0, padding=0, margin=0, spacing=0, label_height=20,
             border_line_color=None, background_fill_alpha=0, label_text_font=FONT,
             label_text_font_size="10.4px", label_text_color="#1A1A1A",
             label_text_baseline="middle")
legf.add_layout(leg)

layout = column(row(gA, pA, gB, pB), row(gC, pC, gD, pD), legf)
open("out.html", "w").write(file_html(layout, INLINE))
